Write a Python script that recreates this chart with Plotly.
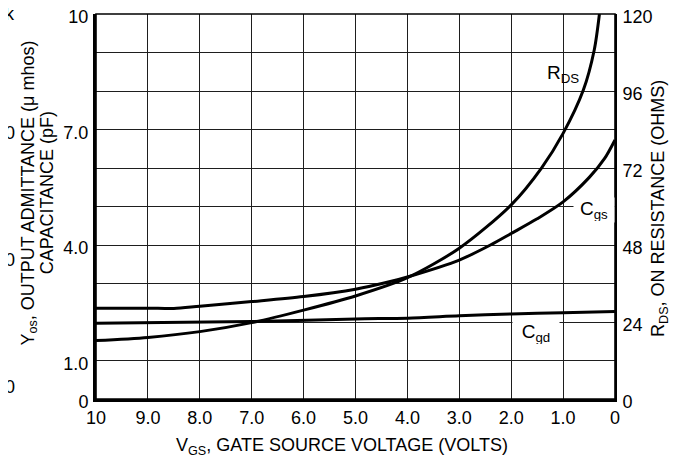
import plotly.graph_objects as go

# V_GS (volts) sampling points and readings per curve
vgs_cgs = [10, 9, 8.5, 8, 7, 6, 5, 4.33, 4, 3, 2.4, 2, 1.5, 1, 0.5, 0.2, 0]
cgs_pf = [2.36, 2.36, 2.35, 2.41, 2.53, 2.66, 2.85, 3.05, 3.17, 3.61, 4.0, 4.30, 4.68, 5.12, 5.75, 6.25, 6.73]

vgs_cgd = [10, 7, 5, 4, 3, 2, 1, 0]
cgd_pf = [1.97, 2.01, 2.08, 2.10, 2.16, 2.21, 2.24, 2.27]

vgs_rds = [10, 9, 8, 7, 6, 5, 4, 3, 2, 1.42, 1, 0.61, 0.4, 0.3]
rds_ohm = [18.2, 19.2, 21.0, 23.8, 27.7, 32.1, 37.8, 47.0, 60.5, 71.9, 82.8, 96.3, 108.8, 120]

x_ticks = [10, 9, 8, 7, 6, 5, 4, 3, 2, 1, 0]
x_labels = ["10", "9.0", "8.0", "7.0", "6.0", "5.0", "4.0", "3.0", "2.0", "1.0", "0"]
y_ticks = [0, 1, 2, 3, 4, 5, 6, 7, 8, 9, 10]
y_labels = ["0", "1.0", "", "", "4.0", "", "", "7.0", "", "", "10"]
r_ticks = [0, 24, 48, 72, 96, 120]

# clipped labels of a third axis at the far left edge
yos_labels = ["10 k", "1000", "100", "10"]
yos_pos = [1.0, 0.691, 0.361, 0.031]

FONT = "Liberation Sans, Arial, Helvetica, sans-serif"
LINE = dict(color="black", width=3)

fig = go.Figure()
fig.add_trace(go.Scatter(x=vgs_cgs, y=cgs_pf, mode="lines",
                         line=dict(**LINE, shape="spline", smoothing=0.8)))
fig.add_trace(go.Scatter(x=vgs_cgd, y=cgd_pf, mode="lines",
                         line=dict(**LINE, shape="spline", smoothing=0.8)))
fig.add_trace(go.Scatter(x=vgs_rds, y=rds_ohm, mode="lines", yaxis="y2",
                         line=dict(**LINE, shape="spline", smoothing=0.8)))

grid = dict(showgrid=True, gridcolor="#1e1e1e", gridwidth=1.2, zeroline=False,
            automargin=False, ticklabeloverflow="allow")

fig.update_layout(
    width=679, height=464,
    margin=dict(l=88, r=72, t=6, b=73),
    paper_bgcolor="white", plot_bgcolor="white",
    showlegend=False,
    font=dict(family=FONT, size=18, color="black"),
    xaxis=dict(range=[10, 0], tickvals=x_ticks, ticktext=x_labels,
               showline=True, linecolor="black", linewidth=3, ticks="", **grid),
    yaxis=dict(range=[0, 10], tickvals=y_ticks, ticktext=y_labels,
               showline=True, linecolor="black", linewidth=3, ticklabelshift=3,
               ticks="outside", ticklen=1, tickcolor="rgba(0,0,0,0)", **grid),
    yaxis2=dict(range=[0, 120], tickvals=r_ticks, overlaying="y", side="right",
                showgrid=False, zeroline=False, showline=True, linecolor="black",
                linewidth=2, ticks="outside", ticklen=2, tickcolor="rgba(0,0,0,0)",
                ticklabelshift=3, automargin=False, ticklabeloverflow="allow"),
)

fig.add_shape(type="rect", xref="paper", yref="paper", x0=0, y0=0, x1=1, y1=1,
              line=dict(color="black", width=1.6), layer="above")

ann = [
    dict(x=1.0, y=8.44, text="R<sub>DS</sub>"),
    dict(x=0.40, y=4.9, text="C<sub>gs</sub>", bgcolor="white", width=38, height=22),
    dict(x=1.52, y=1.71, text="C<sub>gd</sub>", bgcolor="white", width=44, height=22),
]
for a in ann:
    fig.add_annotation(xref="x", yref="y", showarrow=False, font=dict(size=19),
                       xanchor="center", yanchor="middle", **a)

titles = [
    dict(x=0.474, y=-0.124, text="V<sub>GS</sub>, GATE SOURCE VOLTAGE (VOLTS)"),
    dict(x=1.087, y=0.494, textangle=-90, text="R<sub>DS</sub>, ON RESISTANCE (OHMS)"),
    dict(x=-0.130, y=0.535, textangle=-90, text="Y<sub>os</sub>, OUTPUT ADMITTANCE (\u03bc mhos)"),
    dict(x=-0.094, y=0.535, textangle=-90, text="CAPACITANCE (pF)"),
]
for t in titles:
    fig.add_annotation(xref="paper", yref="paper", showarrow=False, font=dict(size=18),
                       xanchor="center", yanchor="middle", **t)

for t, p in zip(yos_labels, yos_pos):
    fig.add_annotation(xref="paper", yref="paper", x=-0.153, y=p, xanchor="right",
                       yanchor="middle", showarrow=False, text=t, font=dict(size=18))

fig.write_html("out.html")
